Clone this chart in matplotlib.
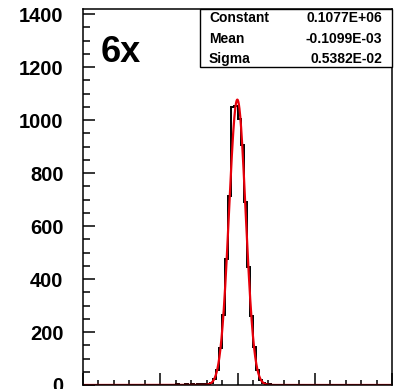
import numpy as np
import matplotlib
matplotlib.use("Agg")
import matplotlib.pyplot as plt
from matplotlib.patches import Rectangle
from matplotlib.ticker import MultipleLocator

plt.rcParams['font.family'] = ['Liberation Sans', 'DejaVu Sans']
plt.rcParams['font.weight'] = 'bold'

# residual histogram, 100 bins over [-0.1, 0.1]
x_lo, x_hi, n_bins = -0.1, 0.1, 100
first_bin = 28  # index of first bin listed in counts
counts = [1, 0, 2, 1, 1, 2, 1, 2, 1, 3, 2, 4, 5, 9, 24, 58, 140, 265,
          475, 715, 1050, 1052, 1005, 905, 690, 445, 262, 145, 55, 20,
          6, 3, 2, 1, 1, 1]

# gaussian fit results (constant shown in units of 1e2 on this axis)
fit_names = ['Constant', 'Mean', 'Sigma']
fit_text = ['0.1077E+06', '-0.1099E-03', '0.5382E-02']
fit_const = 0.1077E+06
fit_mean = -0.1099E-03
fit_sigma = 0.5382E-02
panel_label = '6x'

edges = np.linspace(x_lo, x_hi, n_bins + 1)
h = np.zeros(n_bins)
h[first_bin:first_bin + len(counts)] = counts

fig = plt.figure(figsize=(4.12, 3.89), dpi=100)
ax = fig.add_axes([83 / 412, 4 / 389, 309 / 412, 376 / 389])

ax.stairs(h, edges, color='black', lw=1.4, baseline=0)
xf = np.linspace(x_lo, x_hi, 2000)
yf = fit_const * 1e-2 * np.exp(-0.5 * ((xf - fit_mean) / fit_sigma) ** 2)
ax.plot(xf, yf, color='#e8000b', lw=1.6)

ax.set_xlim(x_lo, x_hi)
ax.set_ylim(0, 1419)
ax.xaxis.set_major_locator(MultipleLocator(0.05))
ax.xaxis.set_minor_locator(MultipleLocator(0.01))
ax.yaxis.set_major_locator(MultipleLocator(200))
ax.yaxis.set_minor_locator(MultipleLocator(50))
ax.tick_params(axis='x', which='both', direction='in', labelbottom=False,
               width=1.1)
ax.tick_params(axis='x', which='major', length=9)
ax.tick_params(axis='x', which='minor', length=3.6)
ax.tick_params(axis='y', which='both', direction='in', width=1.1)
ax.tick_params(axis='y', which='major', length=8.5, pad=14, labelsize=14.5)
ax.tick_params(axis='y', which='minor', length=4.8)
for lab in ax.get_yticklabels():
    lab.set_fontweight('bold')
for s in ax.spines.values():
    s.set_linewidth(1.1)

ax.text(0.057, 0.859, panel_label, transform=ax.transAxes, fontsize=26,
        fontweight='bold', va='baseline', ha='left')

# stats box
x0 = (200 - 83) / 309
y0 = (385 - 67) / 376
ax.add_patch(Rectangle((x0, y0), 1 - x0, 1 - y0, transform=ax.transAxes,
                       facecolor='white', edgecolor='black', lw=1.0,
                       zorder=5, clip_on=False))
rows_y = [0.976, 0.920, 0.867]
for name, val, yy in zip(fit_names, fit_text, rows_y):
    ax.text(0.4078, yy, name, transform=ax.transAxes, fontsize=10,
            fontweight='bold', va='center', ha='left', zorder=6)
    ax.text(0.9676, yy, val, transform=ax.transAxes, fontsize=10,
            fontweight='bold', va='center', ha='right', zorder=6)

fig.savefig('out.png', dpi=100)
